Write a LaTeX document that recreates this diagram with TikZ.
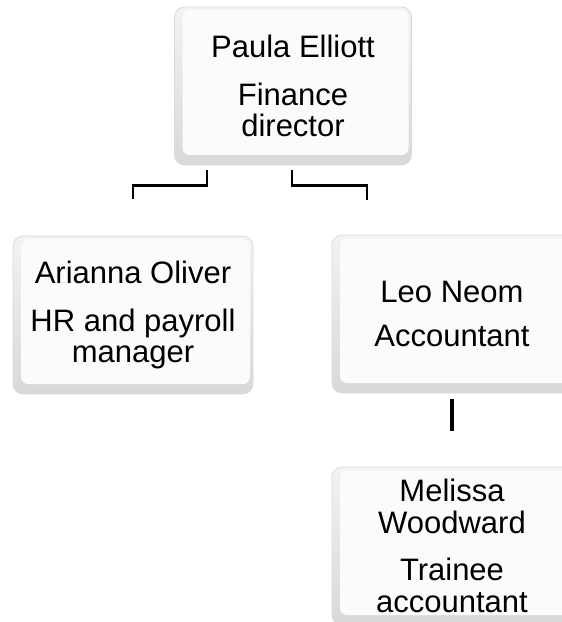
\documentclass[tikz,border=0pt]{standalone}
\usepackage{fontspec}
\setmainfont{Liberation Sans}
\usepackage{tikz}

\begin{document}
\begin{tikzpicture}[x=1pt,y=-1pt,
	card/.style={draw=gray!28, line width=0.8pt, rounded corners=10pt,
		top color=gray!10, bottom color=gray!30,
		minimum width=240pt, minimum height=158pt, inner sep=0pt,
		align=center, font=\fontsize{31}{31}\selectfont,
		path picture={\fill[gray!3, rounded corners=7pt]
			([xshift=8pt,yshift=-3pt]path picture bounding box.north west) rectangle
			([xshift=-3pt,yshift=10pt]path picture bounding box.south east);}},
	link/.style={line width=2.7pt}]
	\useasboundingbox (0,0) rectangle (562,622);
	\clip (0,0) rectangle (562,622);

	% people
	\node[card, minimum width=237pt] (paula) at (293,86) {Paula Elliott\\[17pt]Finance\\director};
	\node[card] (arianna) at (133,315) {Arianna Oliver\\[17pt]HR and payroll\\manager};
	\node[card] (leo) at (452,314) {Leo Neom\\[13pt]Accountant};
	\node[card, font=\fontsize{31}{32}\selectfont] (melissa) at (452,546) {Melissa\\Woodward\\[15pt]Trainee\\accountant};

	% links
	\draw[link] ([xshift=-86pt,yshift=-5pt]paula.south) -- ++(0,15) -| ([yshift=37pt]arianna.north);
	\draw[link] ([xshift=-1pt,yshift=-5pt]paula.south) -- ++(0,15) -| ([xshift=-85pt,yshift=35pt]leo.north);
	\draw[line width=3.5pt] ([yshift=-6pt]leo.south) -- ([yshift=36pt]melissa.north);
\end{tikzpicture}
\end{document}
